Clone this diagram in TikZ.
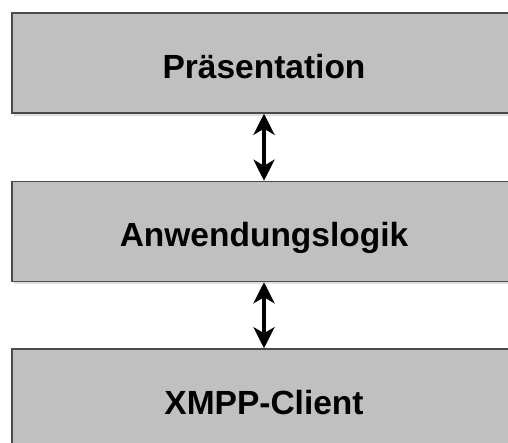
\documentclass[tikz,border=0pt]{standalone}
\usepackage{fontspec}
\setmainfont{Liberation Sans}
\usepackage{tikz}
\usetikzlibrary{arrows.meta,positioning,shadows}
\definecolor{layerGrey}{HTML}{C0C0C0}
\definecolor{layerEdge}{HTML}{4A4A4A}

\begin{document}
\begin{tikzpicture}[
    x=1pt, y=1pt,
    >={Stealth[length=21pt,width=21pt,inset=6pt]},
    layer/.style={draw=layerEdge, line width=1.5pt, fill=layerGrey,
                  minimum width=504pt, minimum height=100pt,
                  text height=31pt, text depth=0pt,
                  font=\fontsize{33.5}{40}\selectfont\bfseries,
                  drop shadow={shadow xshift=2pt, shadow yshift=-3pt,
                               fill=black, opacity=0.12}},
    link/.style={<->, line width=4pt},
  ]

  \clip (0,0) rectangle (508,443);

  \node[layer] (pres) at (264,380) {Präsentation};
  \node[layer, below=67pt of pres] (logic) {Anwendungslogik};
  \node[layer, below=66pt of logic] (xmpp) {XMPP-Client};

  \draw[link] (pres) -- (logic);
  \draw[link] (logic) -- (xmpp);

\end{tikzpicture}
\end{document}
